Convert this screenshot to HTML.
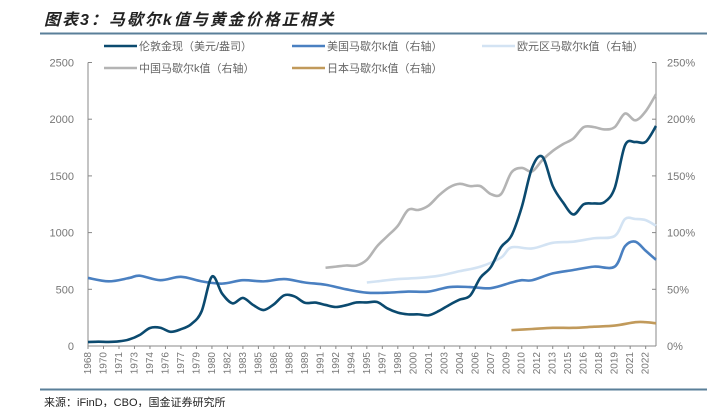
<!DOCTYPE html>
<html><head><meta charset="utf-8"><style>
body{margin:0;background:#fff;width:717px;height:407px;overflow:hidden;font-family:"Liberation Sans","Noto Sans CJK SC",sans-serif}
svg text{font-family:"Liberation Sans","Noto Sans CJK SC",sans-serif}
</style></head><body>
<svg id="c" width="717" height="407">
<text x="44" y="25" font-size="16" font-style="italic" font-weight="bold" letter-spacing="2" fill="#222">图表3：马歇尔k值与黄金价格正相关</text>
<line x1="40" y1="33.5" x2="707" y2="33.5" stroke="#5a7f99" stroke-width="2"/>
<line x1="40" y1="389.5" x2="707" y2="389.5" stroke="#5a7f99" stroke-width="2"/>
<text x="44" y="406" font-size="11" fill="#222">来源：iFinD，CBO，国金证券研究所</text>
<g id="legend"></g>
<g id="axes"></g>
<g id="series"></g>
</svg>
<script>
const years=[1968,1969,1970,1971,1972,1973,1974,1975,1976,1977,1978,1979,1980,1981,1982,1983,1984,1985,1986,1987,1988,1989,1990,1991,1992,1993,1994,1995,1996,1997,1998,1999,2000,2001,2002,2003,2004,2005,2006,2007,2008,2009,2010,2011,2012,2013,2014,2015,2016,2017,2018,2019,2020,2021,2022,2023];
const gold=[35,38,36,41,58,97,159,161,125,148,193,306,612,460,376,424,361,317,368,447,437,381,383,362,344,360,384,384,388,331,294,279,279,271,310,363,409,444,603,695,872,972,1225,1572,1669,1411,1266,1160,1250,1257,1268,1393,1770,1799,1800,1940];
const usYears=[1968,1970,1972,1973,1975,1977,1979,1981,1983,1985,1987,1989,1991,1993,1995,1997,1999,2001,2003,2005,2007,2009,2010,2011,2013,2015,2017,2019,2020,2021,2022,2023];
const usK=[60,57,60,62,58,61,57,55,58,57,59,56,54,50,47,47,48,48,52,52,51,56,58,58,64,67,70,70,88,92,84,76];
const cnYears=[1991,1992,1993,1994,1995,1996,1997,1998,1999,2000,2001,2002,2003,2004,2005,2006,2007,2008,2009,2010,2011,2012,2013,2014,2015,2016,2017,2018,2019,2020,2021,2022,2023];
const cnK=[69,70,71,71,76,88,97,106,120,120,124,133,140,143,141,141,134,134,153,157,154,164,172,178,183,193,193,191,193,205,199,207,222];
const euYears=[1995,1996,1998,2000,2002,2004,2006,2008,2009,2011,2013,2015,2017,2019,2020,2021,2022,2023];
const euK=[56,57,59,60,62,66,70,78,87,86,91,92,95,97,112,112,111,106];
const jpYears=[2009,2011,2013,2015,2017,2019,2021,2022,2023];
const jpK=[14,15,16,16,17,18,21,21,20];
const leftTicks=[0,500,1000,1500,2000,2500];
const rightTicks=[0,50,100,150,200,250];
const xLabels=[1968,1970,1971,1973,1974,1976,1977,1979,1980,1982,1983,1985,1986,1988,1989,1991,1992,1994,1995,1997,1998,2000,2001,2003,2004,2006,2007,2009,2010,2012,2013,2015,2016,2018,2019,2021,2022];

const X0=88,X1=656,Y0=346,Y1=62.5;
const xs=y=>X0+(y-1968)/(2023-1968)*(X1-X0);
const yl=v=>Y0-v/2500*(Y0-Y1);
const yr=v=>Y0-v/250*(Y0-Y1);
const NS='http://www.w3.org/2000/svg';
function mk(t,a,p){const e=document.createElementNS(NS,t);for(const k in a)e.setAttribute(k,a[k]);p.appendChild(e);return e;}
const axes=document.getElementById('axes');
let e=mk('line',{x1:X0,y1:Y1,x2:X0,y2:Y0,stroke:'#888'},axes);


e=mk('line',{x1:X1,y1:Y1,x2:X1,y2:Y0,stroke:'#888'},axes);


e=mk('line',{x1:X0,y1:Y0,x2:X1,y2:Y0,stroke:'#888'},axes);


leftTicks.forEach(v=>{mk('line',{x1:X0,x2:X0+4,y1:yl(v),y2:yl(v),stroke:'#888'},axes);
 const t=mk('text',{x:74,y:yl(v)+4,'font-size':11,fill:'#777','text-anchor':'end'},axes);t.textContent=v;
 
 });
rightTicks.forEach(v=>{mk('line',{x1:X1-4,x2:X1,y1:yr(v),y2:yr(v),stroke:'#888'},axes);
 const t=mk('text',{x:667,y:yr(v)+4,'font-size':11,fill:'#777'},axes);t.textContent=v+'%';
 
 });
for(let y=1968;y<=2023;y+=1.5){mk('line',{x1:xs(y),x2:xs(y),y1:Y0,y2:Y0+3,stroke:'#888'},axes);}
xLabels.forEach((y,i)=>{const px=xs(1968+i*1.5)+3;
 const t=mk('text',{x:0,y:0,'font-size':10,fill:'#777','text-anchor':'end',transform:`translate(${px},352) rotate(-90)`},axes);t.textContent=y;
 
 });
function path(xa,ya,fy){const p=xa.map((x,i)=>[xs(x),fy(ya[i])]);let d='M'+p[0][0]+','+p[0][1];
 for(let i=0;i<p.length-1;i++){const a=p[i-1]||p[i],b=p[i],c=p[i+1],n=p[i+2]||c;
 d+=`C${b[0]+(c[0]-a[0])/6},${b[1]+(c[1]-a[1])/6} ${c[0]-(n[0]-b[0])/6},${c[1]-(n[1]-b[1])/6} ${c[0]},${c[1]}`;}return d;}
const S=document.getElementById('series');
const defs=[[cnYears,cnK,yr,'#b4b4b4','china-k-line'],[euYears,euK,yr,'#d3e3f3','euro-k-line'],[jpYears,jpK,yr,'#c19a5b','japan-k-line'],[usYears,usK,yr,'#4a80c1','us-k-line'],[years,gold,yl,'#0b4a6f','gold-price-line']];
defs.forEach(s=>{const p=mk('path',{d:path(s[0],s[1],s[2]),fill:'none',stroke:s[3],'stroke-width':2.6},S);
 
 });
const L=document.getElementById('legend');
const leg=[[104,50,'#0b4a6f','伦敦金现（美元/盎司）'],[292,50,'#4a80c1','美国马歇尔k值（右轴）'],[482,50,'#d3e3f3','欧元区马歇尔k值（右轴）'],[104,72,'#b4b4b4','中国马歇尔k值（右轴）'],[292,72,'#c19a5b','日本马歇尔k值（右轴）']];
leg.forEach(l=>{const g=mk('g',{},L);
 
 
 mk('line',{x1:l[0],x2:l[0]+33,y1:l[1]-4,y2:l[1]-4,stroke:l[2],'stroke-width':2.6},g);
 const t=mk('text',{x:l[0]+35,y:l[1],'font-size':11,fill:'#666'},g);t.textContent=l[3];});
</script>
</body></html>
